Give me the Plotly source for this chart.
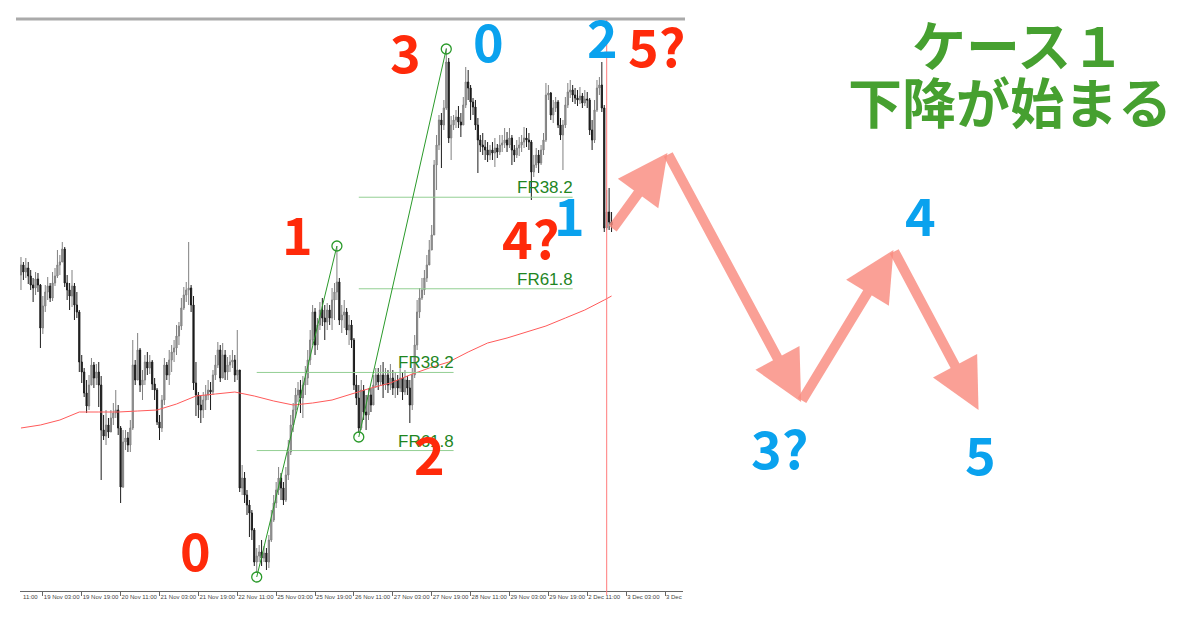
import plotly.graph_objects as go

W, H = 1200, 621

# ---------------- data (hourly bars, price in points) ----------------
first_open = 325
close = [335,328,332,324,315,312,321,315,272,294,
         308,314,302,317,324,335,338,351,317,310,
         304,314,295,288,238,228,207,194,215,235,
         222,228,215,170,164,175,168,182,187,190,
         172,113,158,162,155,172,235,220,250,215,
         220,238,232,238,216,210,178,172,200,235,
         225,240,248,252,264,274,292,305,310,312,
         295,217,205,195,190,200,205,210,208,225,
         235,250,222,245,228,235,238,240,225,230,
         112,122,105,95,87,70,38,44,48,42,
         47,38,60,80,97,110,122,112,100,125,
         148,175,190,205,210,202,215,222,240,260,
         288,255,275,290,282,278,290,282,300,308,
         318,280,285,288,270,275,260,215,202,172,
         210,188,185,205,195,215,225,218,225,215,
         225,215,222,212,220,212,222,208,220,212,
         195,225,255,288,302,310,322,335,350,365,
         435,455,480,475,492,538,462,475,480,483,
         478,475,495,518,512,498,493,475,460,455,
         453,450,445,450,447,452,448,455,457,460,
         455,462,450,445,452,455,458,462,460,458,
         428,435,445,437,450,460,505,507,485,492,
         498,475,465,475,495,508,510,505,502,500,
         504,497,501,500,470,460,490,512,515,492,
         372,388,378,375]
high = [343,338,342,338,330,322,328,327,316,304,
        315,323,317,328,332,350,345,358,353,325,
        317,330,317,308,290,245,232,220,225,242,
        238,236,238,224,185,190,182,190,197,210,
        195,174,170,170,168,180,260,240,267,252,
        230,245,248,245,240,222,212,185,205,242,
        238,250,255,260,275,278,302,313,318,358,
        315,304,238,208,205,208,215,220,218,230,
        245,258,255,257,250,243,245,250,245,270,
        228,135,128,110,100,90,72,52,55,60,
        54,52,65,90,105,118,133,127,118,133,
        160,185,197,212,218,220,224,234,250,270,
        295,292,282,298,302,295,297,295,312,317,
        354,322,295,300,292,285,280,262,225,215,
        220,215,205,212,212,225,232,232,235,238,
        232,230,236,230,228,225,232,228,230,224,
        220,232,265,300,312,322,330,345,360,375,
        440,465,485,487,500,552,542,484,485,490,
        494,487,503,533,530,515,502,500,482,465,
        467,460,458,455,458,462,456,465,465,472,
        468,472,465,455,460,463,465,473,472,467,
        460,445,452,450,455,467,517,515,508,500,
        503,500,482,480,503,517,520,515,512,510,
        513,507,510,508,502,480,500,520,523,538,
        495,410,412,388]
low = [310,320,322,316,310,298,305,308,252,266,
       288,300,298,299,314,322,325,338,313,300,
       290,293,280,282,228,217,203,187,190,215,
       212,215,193,120,160,155,162,170,175,182,
       165,97,112,150,148,148,170,215,220,208,
       200,215,225,226,210,200,175,160,168,195,
       220,215,228,238,245,255,270,290,298,295,
       288,210,184,182,177,182,190,200,190,205,
       220,232,218,222,220,220,228,232,218,220,
       108,105,97,85,63,60,34,27,38,34,
       38,30,32,58,78,92,105,100,95,98,
       120,145,168,182,198,187,182,205,215,235,
       255,245,250,270,274,260,270,275,270,280,
       300,275,267,272,265,255,252,210,195,167,
       170,180,170,180,188,198,212,210,215,202,
       210,207,210,205,202,205,208,200,205,205,
       177,190,222,250,282,300,305,318,338,350,
       365,410,450,432,470,490,457,440,470,472,
       472,463,475,492,500,480,485,470,427,448,
       445,440,438,440,440,433,442,445,448,452,
       448,452,435,438,442,444,448,452,453,450,
       400,423,432,427,435,445,458,500,480,477,
       488,472,460,430,472,492,502,498,496,494,
       496,492,494,492,465,450,457,488,505,488,
       368,370,370,368]

# moving average (red line), sampled every 8 bars
ma_idx = [0,8,16,24,32,40,48,56,64,72,80,88,96,104,112,120,128,136,144,152,
          160,168,176,184,192,200,208,216,224,232,240,243]
ma_val = [172,175,180,188,188,188,189,190,196,204,206,208,204,199,195,197,200,206,212,217,
          225,232,238,248,257,262,268,274,282,290,300,304]

tick_idx = [9,25,41,57,73,89,105,121,137,153,169,185,201,217,233,249,265]
tick_labels = ["19 Nov 03:00","19 Nov 19:00","20 Nov 11:00","21 Nov 03:00","21 Nov 19:00",
               "22 Nov 11:00","25 Nov 03:00","25 Nov 19:00","26 Nov 11:00","27 Nov 03:00",
               "27 Nov 19:00","28 Nov 11:00","29 Nov 03:00","29 Nov 19:00","2 Dec 11:00",
               "3 Dec 03:00","3 Dec"]

# Elliott wave pivots (bar index, price)
wave_a_idx = [97, 130]
wave_a_val = [23, 354]
wave_b_idx = [139, 175]
wave_b_val = [163, 551]
fib_ratios = [0.382, 0.618]
fib_names = ["FR38.2", "FR61.8"]
fib_a_span = [97, 178]
fib_b_span = [139, 227]
now_idx = 241

# projected path (bar index, price)
proj_idx = [243, 266, 321, 359, 394]
proj_val = [370, 447, 198, 350, 190]

# ---------------- figure ----------------
idx = list(range(len(close)))
opens = [first_open] + close[:-1]

X0, X1 = 20, 683          # plot area pixels
YT, YB = 20, 591
xr = [-0.4, 272.4]
ppx = (X1 - X0) / (xr[1] - xr[0])
x2r = [xr[0] - X0 / ppx, xr[0] + (W - X0) / ppx]
yr = [600 - YB, 600 - YT]
y2r = [600 - H, 600]

fig = go.Figure()
fig.add_trace(go.Candlestick(
    x=idx, open=opens, high=high, low=low, close=close,
    increasing=dict(line=dict(color="#808080", width=1), fillcolor="#a0a0a0"),
    decreasing=dict(line=dict(color="#1c1c1c", width=1), fillcolor="#1c1c1c"),
    whiskerwidth=0, showlegend=False, hoverinfo="skip"))

fig.add_trace(go.Scatter(x=ma_idx, y=ma_val, mode="lines",
                         line=dict(color="#ff5a5a", width=1), showlegend=False, hoverinfo="skip"))

# fibonacci levels
annos = []
for (p0, p1), span in [((wave_a_val[0], wave_a_val[1]), fib_a_span),
                       ((wave_b_val[0], wave_b_val[1]), fib_b_span)]:
    for r, name in zip(fib_ratios, fib_names):
        lvl = p1 - r * (p1 - p0)
        fig.add_trace(go.Scatter(x=span, y=[lvl, lvl], mode="lines",
                                 line=dict(color="#93cf93", width=1),
                                 showlegend=False, hoverinfo="skip"))
        annos.append(dict(x=span[1], y=lvl, xref="x", yref="y", text=name, showarrow=False,
                          xanchor="right", yanchor="bottom", yshift=-2, xshift=2,
                          font=dict(family="Liberation Sans", size=17, color="#1f861f")))

# wave lines with circles
fig.add_trace(go.Scatter(x=wave_a_idx + [None] + wave_b_idx,
                         y=wave_a_val + [None] + wave_b_val,
                         mode="lines+markers",
                         line=dict(color="#2a9a2a", width=1),
                         marker=dict(symbol="circle-open", size=10, color="#2a9a2a",
                                     line=dict(width=1.3)),
                         showlegend=False, hoverinfo="skip"))

# invisible projection anchor trace on full-figure axes
fig.add_trace(go.Scatter(x=proj_idx, y=proj_val, xaxis="x2", yaxis="y2", mode="markers",
                         marker=dict(size=1, opacity=0), showlegend=False, hoverinfo="skip"))

pink = "rgba(249,140,128,0.82)"
for k in range(len(proj_idx) - 1):
    annos.append(dict(x=proj_idx[k + 1], y=proj_val[k + 1], xref="x2", yref="y2",
                      ax=proj_idx[k], ay=proj_val[k], axref="x2", ayref="y2",
                      text="", showarrow=True, arrowhead=2, arrowsize=1,
                      arrowwidth=10, arrowcolor=pink, standoff=0, startstandoff=0))

def lab(text, px, py, color, size=52):
    return dict(x=px / W, y=1 - py / H, xref="paper", yref="paper", text="<b>%s</b>" % text,
                showarrow=False, xanchor="center", yanchor="middle", yshift=4,
                font=dict(family="Noto Sans CJK JP", size=size, color=color))

RED, BLUE, GREEN = "#ff2a0a", "#0aa2ee", "#46a030"
annos += [
    lab("0", 195, 552, RED), lab("1", 297, 237, RED), lab("2", 429, 456, RED),
    lab("3", 405, 55, RED), lab("4?", 530, 241, RED), lab("5?", 656, 48, RED),
    lab("0", 488, 44, BLUE), lab("2", 603, 39, BLUE), lab("1", 569, 217, BLUE),
    lab("3?", 779, 450, BLUE), lab("4", 920, 217, BLUE), lab("5", 980, 456, BLUE),
    lab("ケース１", 1018, 47, GREEN, 54), lab("下降が始まる", 1010, 105, GREEN, 54),
]
annos.append(dict(x=X0 / W + 0.001, y=1 - 597 / H, xref="paper", yref="paper", text="11:00",
                  showarrow=False, xanchor="left", yanchor="middle",
                  font=dict(family="Liberation Sans", size=6, color="#444")))

shapes = [
    dict(type="line", xref="paper", yref="paper", x0=16 / W, x1=685 / W,
         y0=1 - 19 / H, y1=1 - 19 / H, line=dict(color="#aaaaaa", width=3)),
    dict(type="line", xref="x", yref="paper", x0=now_idx, x1=now_idx,
         y0=1 - 595 / H, y1=1 - YT / H, line=dict(color="#ff7b7b", width=1)),
]

fig.update_layout(
    width=W, height=H, margin=dict(l=0, r=0, t=0, b=0),
    paper_bgcolor="white", plot_bgcolor="rgba(0,0,0,0)",
    showlegend=False, hovermode=False,
    xaxis=dict(domain=[X0 / W, X1 / W], range=xr, rangeslider=dict(visible=False),
               showgrid=False, zeroline=False, showline=True, linecolor="#666", linewidth=1,
               tickmode="array", tickvals=tick_idx, ticktext=tick_labels, tickangle=0,
               ticks="outside", ticklen=4, tickcolor="#666", ticklabelposition="outside right",
               tickfont=dict(family="Liberation Sans", size=6, color="#444"), anchor="y"),
    yaxis=dict(domain=[1 - YB / H, 1 - YT / H], range=yr, visible=False, anchor="x"),
    xaxis2=dict(domain=[0, 1], range=x2r, visible=False, anchor="y2"),
    yaxis2=dict(domain=[0, 1], range=y2r, visible=False, anchor="x2"),
    annotations=annos, shapes=shapes,
)

fig.write_html("out.html", config={"displayModeBar": False},
               post_script="document.body.style.margin='0';document.body.style.overflow='hidden';")
